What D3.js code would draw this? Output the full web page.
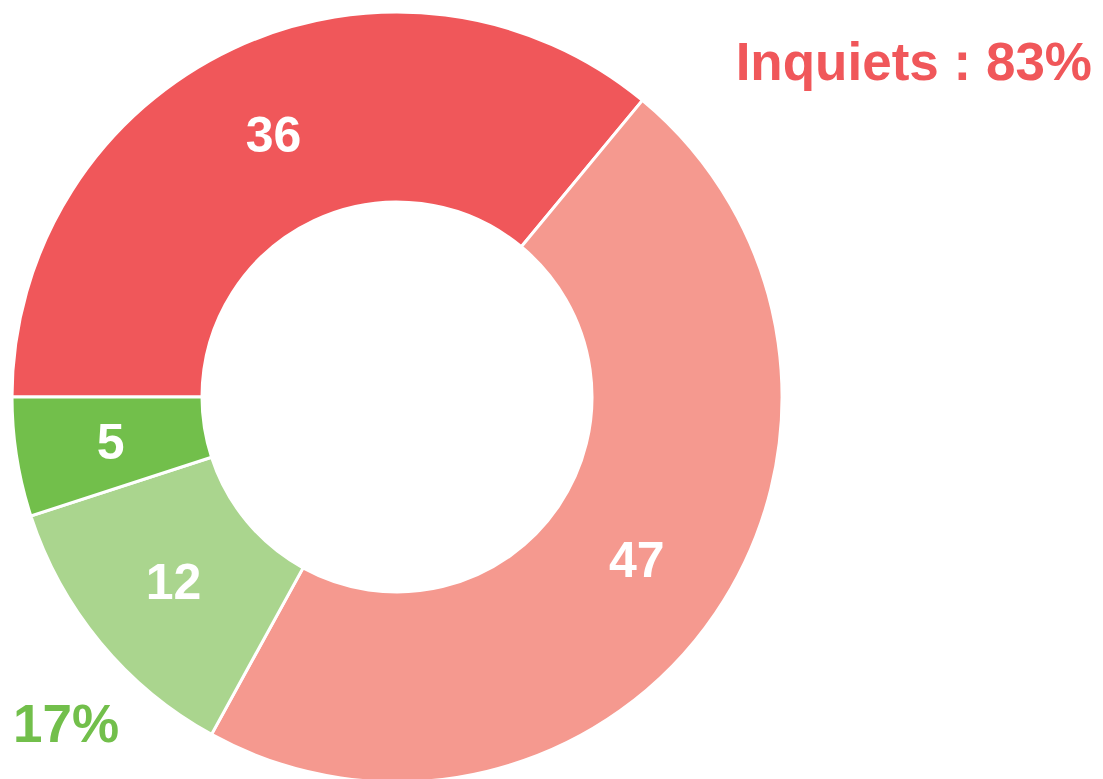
<!DOCTYPE html>
<html><head><meta charset="utf-8">
<script src="https://cdn.jsdelivr.net/npm/d3@7"></script>
<style>body{margin:0;background:#fff;}svg{display:block;}</style>
</head><body>
<script>
const categories = ["Très inquiets", "Plutôt inquiets", "Plutôt pas inquiets", "Pas du tout inquiets"];
const values = [36, 47, 12, 5];
const colors = ["#F0575A", "#F5998F", "#AAD58E", "#72BF4B"];
const summaryLabels = ["Inquiets : 83%", "17%"];
const summaryColors = ["#F0575A", "#72BF4B"];

const W = 1103, H = 779;
const cx = 397, cy = 397, rOuter = 385, rInner = 195;

const svg = d3.select("body").append("svg").attr("width", W).attr("height", H);
const g = svg.append("g").attr("transform", `translate(${cx},${cy})`);

const pie = d3.pie().sort(null).value(d => d)
  .startAngle(-Math.PI / 2).endAngle(3 * Math.PI / 2);
const arcs = pie(values);
const arc = d3.arc().innerRadius(rInner).outerRadius(rOuter);

g.selectAll("path").data(arcs).join("path")
  .attr("d", arc)
  .attr("fill", (d, i) => colors[i])
  .attr("stroke", "#fff").attr("stroke-width", 3);

g.selectAll("text.val").data(arcs).join("text")
  .attr("class", "val")
  .attr("transform", d => `translate(${arc.centroid(d)})`)
  .attr("text-anchor", "middle").attr("dominant-baseline", "central")
  .attr("font-family", "Liberation Sans, Arial, sans-serif")
  .attr("font-weight", "bold").attr("font-size", 50).attr("fill", "#fff")
  .text(d => d.data);

svg.append("text").attr("x", 1092).attr("y", 80).attr("text-anchor", "end")
  .attr("font-family", "Liberation Sans, Arial, sans-serif").attr("font-weight", "bold")
  .attr("font-size", 53).attr("fill", summaryColors[0]).text(summaryLabels[0]);
svg.append("text").attr("x", 13).attr("y", 742).attr("text-anchor", "start")
  .attr("font-family", "Liberation Sans, Arial, sans-serif").attr("font-weight", "bold")
  .attr("font-size", 53).attr("fill", summaryColors[1]).text(summaryLabels[1]);
</script>
</body></html>
